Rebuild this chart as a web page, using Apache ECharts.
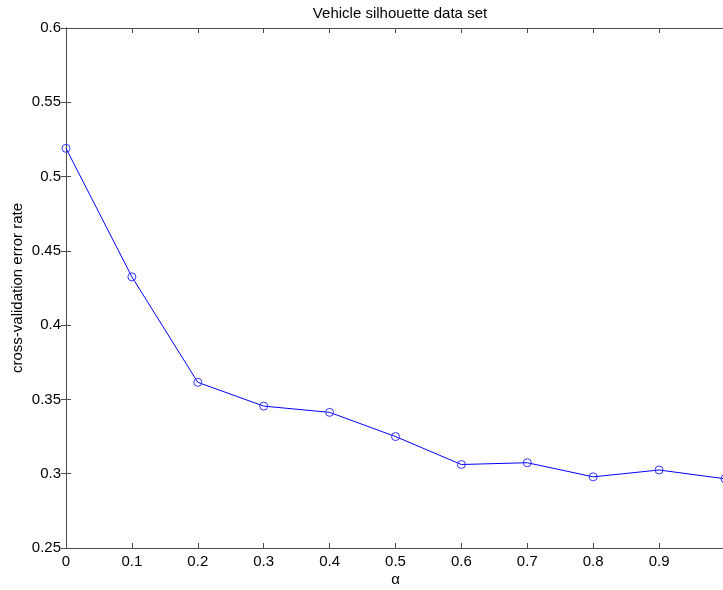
<!DOCTYPE html>
<html>
<head>
<meta charset="utf-8">
<script src="https://cdn.jsdelivr.net/npm/echarts@6/dist/echarts.min.js"></script>
<style>html,body{margin:0;padding:0;background:#fff;}#c{width:723px;height:590px;}</style>
</head>
<body>
<div id="c"></div>
<script>
const alpha = [0, 0.1, 0.2, 0.3, 0.4, 0.5, 0.6, 0.7, 0.8, 0.9, 1.0];
const errorRate = [0.519, 0.4325, 0.3615, 0.3455, 0.3413, 0.325, 0.3062, 0.3074, 0.2979, 0.3025, 0.2966];
const titleText = 'Vehicle silhouette data set';
const xLabel = 'α';
const yLabel = 'cross-validation error rate';

const font = 'Arial, "Liberation Sans", Helvetica, sans-serif';
const axisColor = '#4d4d4d';
const fmt = v => parseFloat(v.toFixed(2)).toString();
const chart = echarts.init(document.getElementById('c'));
const common = {
  axisLine: {show: true, lineStyle: {color: axisColor, width: 1}},
  axisTick: {show: true, inside: true, length: 5, lineStyle: {color: axisColor}},
  splitLine: {show: false}
};
chart.setOption({
  animation: false,
  title: {
    text: titleText, left: 395, top: 1, textAlign: 'center',
    textStyle: {fontFamily: font, fontSize: 15, fontWeight: 'normal', color: '#000'}
  },
  grid: {left: 66, top: 28, right: -2, bottom: 42, containLabel: false, outerBoundsMode: 'none'},
  xAxis: [
    Object.assign({
      type: 'value', min: 0, max: 1, interval: 0.1, position: 'bottom',
      name: xLabel, nameLocation: 'middle', nameGap: 24, nameMoveOverlap: false,
      nameTextStyle: {fontFamily: font, fontSize: 15, color: '#000'},
      axisLabel: {formatter: v => (v >= 0.999 ? '' : fmt(v)), fontFamily: font, fontSize: 15, color: '#000', margin: 6}
    }, common),
    Object.assign({
      type: 'value', min: 0, max: 1, interval: 0.1, position: 'top',
      axisLabel: {show: false}
    }, common)
  ],
  yAxis: [
    Object.assign({
      type: 'value', min: 0.25, max: 0.6, interval: 0.05, position: 'left',
      name: yLabel, nameLocation: 'middle', nameGap: 41, nameRotate: 90, nameMoveOverlap: false,
      nameTextStyle: {fontFamily: font, fontSize: 15, color: '#000'},
      axisLabel: {formatter: fmt, fontFamily: font, fontSize: 15, color: '#000', margin: 5}
    }, common),
    Object.assign({
      type: 'value', min: 0.25, max: 0.6, interval: 0.05, position: 'right',
      axisLabel: {show: false}
    }, common)
  ],
  series: [{
    type: 'line',
    data: alpha.map((a, i) => [a, errorRate[i]]),
    symbol: 'circle', symbolSize: 8, showSymbol: true,
    itemStyle: {color: 'rgba(255,255,255,0)', borderColor: '#3333ff', borderWidth: 1},
    lineStyle: {color: '#0000ff', width: 1},
    clip: false
  }]
});
</script>
</body>
</html>
